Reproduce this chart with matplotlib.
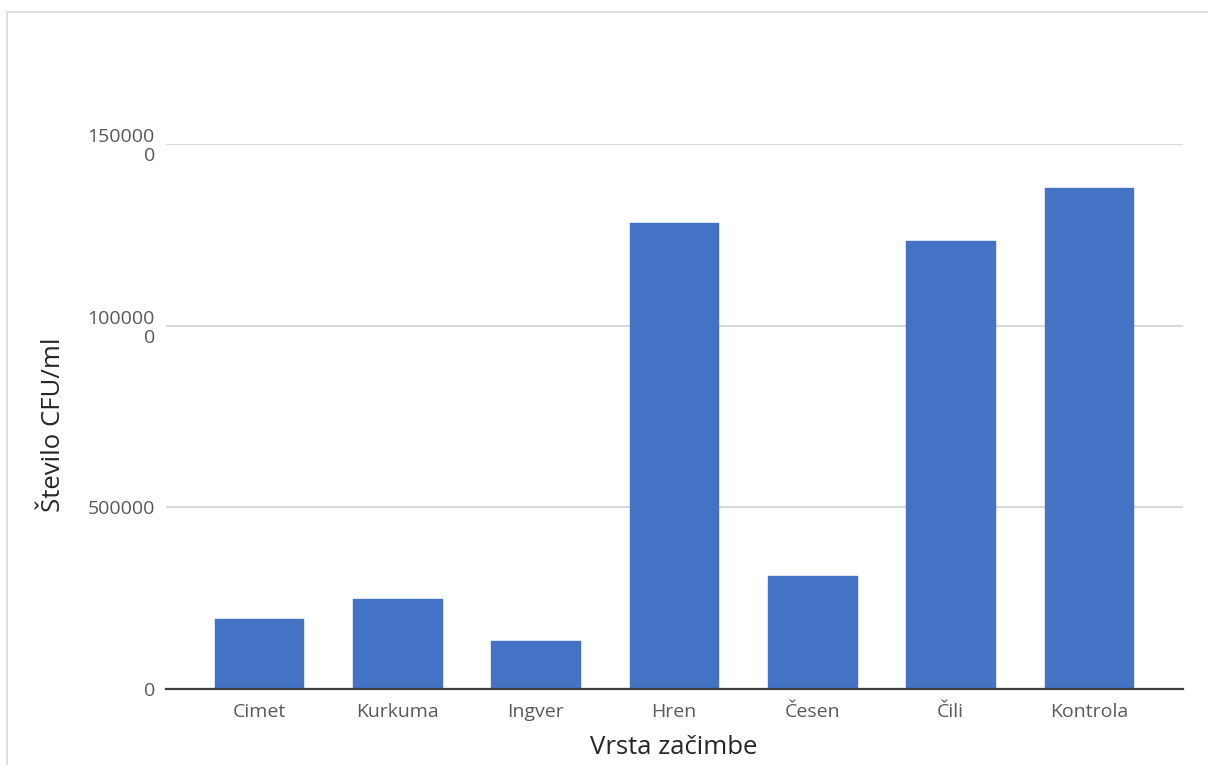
import matplotlib
matplotlib.use("Agg")
import matplotlib.pyplot as plt
from matplotlib.patches import Rectangle

categories = ["Cimet", "Kurkuma", "Ingver", "Hren", "Česen", "Čili", "Kontrola"]
cfu_values = [193000, 248000, 132000, 1283000, 311000, 1233000, 1379000]
y_ticks = [0, 500000, 1000000, 1500000]
y_tick_labels = ["0", "500000", "100000\n0", "150000\n0"]

bar_color = "#4472C4"
text_color = "#595959"

plt.rcParams["font.family"] = ["Open Sans", "DejaVu Sans"]

W, H = 1208, 765
fig = plt.figure(figsize=(W / 100, H / 100), dpi=100)

# outer chart frame
frame = Rectangle((7 / W, -0.01), 1.02, 1 - 12 / H + 0.01, transform=fig.transFigure,
                  fill=False, edgecolor="#d9d9d9", linewidth=1.2, clip_on=False)
fig.patches.append(frame)

ax = fig.add_axes([166 / W, 1 - 689 / H, (1183 - 166) / W, (689 - 144) / H])

x = list(range(len(categories)))
ax.bar(x, cfu_values, width=0.64, color=bar_color, edgecolor=bar_color,
       linewidth=1.0, joinstyle="round", zorder=3)

ax.set_xlim(-0.672, 6.68)
ax.set_ylim(0, 1500000)

ax.set_yticks(y_ticks)
ax.set_yticklabels(y_tick_labels, multialignment="right", linespacing=1.08)
ax.set_xticks(x)
ax.set_xticklabels(categories)

ax.grid(axis="y", color="#d9d9d9", linewidth=1.5, zorder=0)
ax.set_axisbelow(True)

for side in ["top", "right", "left"]:
    ax.spines[side].set_visible(False)
ax.spines["bottom"].set_color("#404040")
ax.spines["bottom"].set_linewidth(1.6)
ax.spines["bottom"].set_zorder(4)

ax.tick_params(axis="both", length=0, labelsize=14, colors=text_color)
ax.tick_params(axis="y", pad=8)
ax.tick_params(axis="x", pad=10)

ax.set_xlabel("Vrsta začimbe", fontsize=18.5, color="#262626", va="center")
ax.set_ylabel("Število CFU/ml", fontsize=18.5, color="#262626", va="center", ha="center")
ax.xaxis.set_label_coords((674 - 166) / 1017, (689 - 747) / 545)
ax.yaxis.set_label_coords((54 - 166) / 1017, (689 - 425) / 545)

fig.savefig("out.png", dpi=100)
